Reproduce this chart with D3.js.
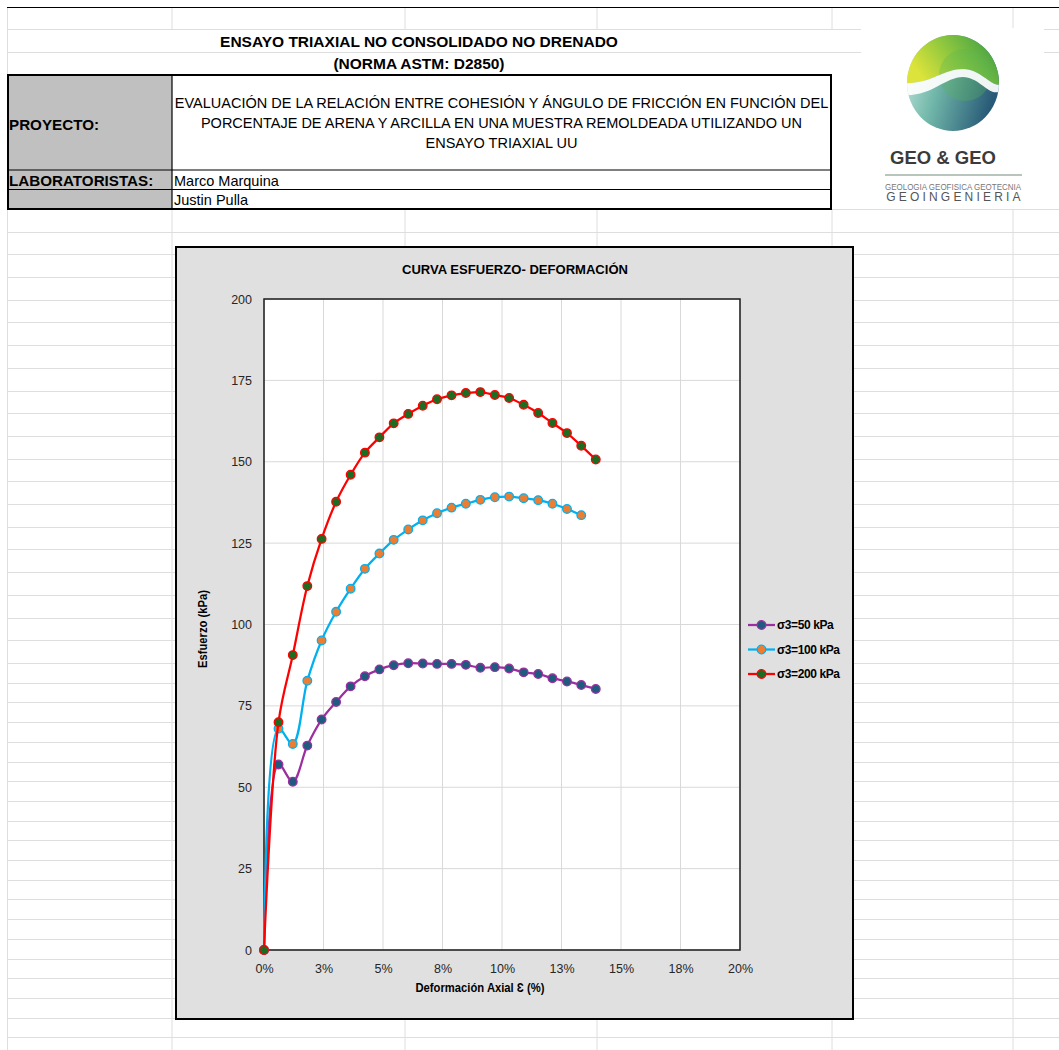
<!DOCTYPE html>
<html>
<head>
<meta charset="utf-8">
<script src="https://cdn.jsdelivr.net/npm/d3@7"></script>
<style>
  body { margin: 0; background: #fff; }
  svg { display: block; font-family: "Liberation Sans", Arial, sans-serif; }
</style>
</head>
<body>
<div id="sheet"></div>
<script>
// Data
var strain = [0, 0.61, 1.21, 1.82, 2.42, 3.03, 3.64, 4.24, 4.85, 5.45, 6.06, 6.67,
              7.27, 7.88, 8.48, 9.09, 9.70, 10.30, 10.91, 11.52, 12.12, 12.73, 13.33, 13.94];
var stress50  = [0, 57.0, 51.7, 62.8, 70.8, 76.2, 81.0, 84.1, 86.2, 87.5, 88.1, 88.0,
                 87.9, 87.9, 87.6, 86.7, 86.9, 86.5, 85.3, 84.8, 83.5, 82.5, 81.4, 80.2];
var stress100 = [0, 68.0, 63.3, 82.7, 95.1, 103.9, 111.0, 117.1, 121.8, 126.0, 129.2, 132.0,
                 134.2, 135.9, 137.1, 138.3, 139.1, 139.3, 138.8, 138.2, 137.1, 135.5, 133.6];
var stress200 = [0, 70.0, 90.6, 111.8, 126.3, 137.7, 146.0, 152.8, 157.5, 161.8, 164.7, 167.2,
                 169.2, 170.4, 171.1, 171.4, 170.5, 169.6, 167.5, 165.0, 161.9, 158.8, 154.9, 150.7];
var seriesNames = ["σ3=50 kPa", "σ3=100 kPa", "σ3=200 kPa"];
var xTickValues = [0, 2.5, 5, 7.5, 10, 12.5, 15, 17.5, 20];
var xTickLabels = ["0%", "3%", "5%", "8%", "10%", "13%", "15%", "18%", "20%"];
var yTickValues = [0, 25, 50, 75, 100, 125, 150, 175, 200];

var projectLines = [
  "EVALUACIÓN DE LA RELACIÓN ENTRE COHESIÓN Y ÁNGULO DE FRICCIÓN EN FUNCIÓN DEL",
  "PORCENTAJE DE ARENA Y ARCILLA EN UNA MUESTRA REMOLDEADA UTILIZANDO UN",
  "ENSAYO TRIAXIAL UU"
];
var labNames = ["Marco Marquina", "Justin Pulla"];

// Styles per series
var lineColors = ["#9c2f9f", "#00b0f0", "#ff0000"];
var markerFills = ["#1f5b7e", "#ed7d31", "#1e6b22"];

var W = 1059, H = 1050;
var svg = d3.select("#sheet").append("svg")
    .attr("width", W).attr("height", H);

var defs = svg.append("defs");

// ---------- spreadsheet grid ----------
var gridColor = "#dedede";
var cols = [7.5, 172, 405, 597, 832, 1013];
var rows = [209];
var yy = 209;
for (var i = 0; i < 20; i++) { yy += 22.7; rows.push(yy); }
while (yy < H) { yy += 19.7; rows.push(yy); }

var grid = svg.append("g").attr("stroke", gridColor).attr("stroke-width", 1);
rows.forEach(function(r) {
  grid.append("line").attr("x1", 7.5).attr("x2", W).attr("y1", Math.round(r) + 0.5).attr("y2", Math.round(r) + 0.5);
});
cols.forEach(function(c) {
  grid.append("line").attr("x1", c).attr("x2", c).attr("y1", 209).attr("y2", H);
});
// header rows
[29.5, 52.5].forEach(function(r) {
  grid.append("line").attr("x1", 7.5).attr("x2", W).attr("y1", r).attr("y2", r);
});
[172, 405, 597, 832, 1013].forEach(function(c) {
  grid.append("line").attr("x1", c).attr("x2", c).attr("y1", 7).attr("y2", 29);
});
grid.append("line").attr("x1", 7.5).attr("x2", 7.5).attr("y1", 7).attr("y2", 209);
svg.append("line").attr("x1", 7).attr("x2", W).attr("y1", 7.5).attr("y2", 7.5)
    .attr("stroke", "#000").attr("stroke-width", 1);

// ---------- header ----------
svg.append("text").attr("x", 419).attr("y", 46.5).attr("text-anchor", "middle")
    .attr("font-size", 15.5).attr("font-weight", "bold")
    .text("ENSAYO TRIAXIAL NO CONSOLIDADO NO DRENADO");
svg.append("text").attr("x", 419).attr("y", 68.5).attr("text-anchor", "middle")
    .attr("font-size", 15.5).attr("font-weight", "bold")
    .text("(NORMA ASTM: D2850)");

var table = svg.append("g");
table.append("rect").attr("x", 8).attr("y", 75).attr("width", 164).attr("height", 134).attr("fill", "#c0c0c0");
table.append("rect").attr("x", 8).attr("y", 75).attr("width", 823).attr("height", 134)
    .attr("fill", "none").attr("stroke", "#000").attr("stroke-width", 2);
table.append("line").attr("x1", 172).attr("x2", 172).attr("y1", 75).attr("y2", 209).attr("stroke", "#000").attr("stroke-width", 1.2);
[170, 189.5].forEach(function(r) {
  table.append("line").attr("x1", 8).attr("x2", 831).attr("y1", r).attr("y2", r).attr("stroke", "#000").attr("stroke-width", 1.2);
});
table.append("text").attr("x", 9).attr("y", 130).attr("font-size", 15.2).attr("font-weight", "bold").text("PROYECTO:");
table.append("text").attr("x", 9).attr("y", 185.5).attr("font-size", 15.2).attr("font-weight", "bold").text("LABORATORISTAS:");
projectLines.forEach(function(t, i) {
  table.append("text").attr("x", 501.5).attr("y", 108 + i * 20).attr("text-anchor", "middle")
      .attr("font-size", 14.5).text(t);
});
labNames.forEach(function(t, i) {
  table.append("text").attr("x", 174).attr("y", 185.5 + i * 19.5).attr("font-size", 14.5).text(t);
});

// ---------- logo ----------
var logo = svg.append("g");
logo.append("rect").attr("x", 861).attr("y", 28).attr("width", 183).attr("height", 181).attr("fill", "#fff");
var gTop = defs.append("linearGradient").attr("id", "lgTop").attr("x1", 0).attr("y1", 0.4).attr("x2", 1).attr("y2", 0);
gTop.append("stop").attr("offset", 0).attr("stop-color", "#dce33a");
gTop.append("stop").attr("offset", 0.4).attr("stop-color", "#8cc63f");
gTop.append("stop").attr("offset", 1).attr("stop-color", "#249148");
var gBot = defs.append("linearGradient").attr("id", "lgBot").attr("x1", 0).attr("y1", 0).attr("x2", 1).attr("y2", 0.3);
gBot.append("stop").attr("offset", 0).attr("stop-color", "#d3f0ea");
gBot.append("stop").attr("offset", 0.45).attr("stop-color", "#72b8aa");
gBot.append("stop").attr("offset", 1).attr("stop-color", "#285a77");
defs.append("clipPath").attr("id", "logoClip").append("ellipse")
    .attr("cx", 0).attr("cy", 0).attr("rx", 46).attr("ry", 48);
var lg = logo.append("g").attr("transform", "translate(953,83)").attr("clip-path", "url(#logoClip)");
lg.append("rect").attr("x", -50).attr("y", -55).attr("width", 100).attr("height", 110).attr("fill", "url(#lgBot)");
lg.append("path").attr("d", "M-50,-55 L50,-55 L50,0 C40,8 30,-14 10,-14 C-10,-14 -24,2 -50,0 Z").attr("fill", "url(#lgTop)");
lg.append("circle").attr("cx", 12).attr("cy", -8).attr("r", 26).attr("fill", "#5ab552").attr("opacity", 0.3);
lg.append("path").attr("d", "M-50,0 C-24,2 -10,-14 10,-14 C30,-14 40,8 50,0 L50,6 C38,18 28,-6 10,-6 C-8,-6 -22,14 -50,12 Z")
    .attr("fill", "#fff").attr("opacity", 0.92);
logo.append("text").attr("x", 943).attr("y", 163.5).attr("text-anchor", "middle")
    .attr("font-size", 18.5).attr("font-weight", "bold").attr("fill", "#3b3b3b").text("GEO & GEO");
logo.append("line").attr("x1", 885).attr("x2", 1022).attr("y1", 175).attr("y2", 175)
    .attr("stroke", "#9fb2a6").attr("stroke-width", 1.5);
logo.append("text").attr("x", 953).attr("y", 190).attr("text-anchor", "middle")
    .attr("font-size", 8.5).attr("fill", "#777").attr("textLength", 136).attr("lengthAdjust", "spacingAndGlyphs")
    .text("GEOLOGIA GEOFISICA GEOTECNIA");
logo.append("text").attr("x", 955).attr("y", 201).attr("text-anchor", "middle")
    .attr("font-size", 12).attr("fill", "#555").attr("letter-spacing", 3.2)
    .text("GEOINGENIERIA");

// ---------- chart ----------
var chart = svg.append("g");
chart.append("rect").attr("x", 176).attr("y", 247).attr("width", 677).attr("height", 772)
    .attr("fill", "#e0e0e0").attr("stroke", "#000").attr("stroke-width", 2);

var x = d3.scaleLinear().domain([0, 20]).range([264, 740]);
var y = d3.scaleLinear().domain([0, 200]).range([950, 299]);

chart.append("rect").attr("x", x(0)).attr("y", y(200)).attr("width", x(20) - x(0)).attr("height", y(0) - y(200))
    .attr("fill", "#fff");

// gridlines
chart.append("g").selectAll("line").data(xTickValues).enter().append("line")
    .attr("x1", function(d) { return x(d); }).attr("x2", function(d) { return x(d); })
    .attr("y1", y(0)).attr("y2", y(200)).attr("stroke", "#d9d9d9");
chart.append("g").selectAll("line").data(yTickValues).enter().append("line")
    .attr("x1", x(0)).attr("x2", x(20))
    .attr("y1", function(d) { return y(d); }).attr("y2", function(d) { return y(d); }).attr("stroke", "#d9d9d9");

chart.append("rect").attr("x", x(0)).attr("y", y(200)).attr("width", x(20) - x(0)).attr("height", y(0) - y(200))
    .attr("fill", "none").attr("stroke", "#1a1a1a").attr("stroke-width", 1.5);

// axes
var xAxis = chart.append("g").attr("transform", "translate(0," + y(0) + ")")
    .call(d3.axisBottom(x).tickValues(xTickValues)
      .tickFormat(function(d, i) { return xTickLabels[i]; }).tickSize(0).tickPadding(14));
var yAxis = chart.append("g").attr("transform", "translate(" + x(0) + ",0)")
    .call(d3.axisLeft(y).tickValues(yTickValues).tickSize(0).tickPadding(12));
[xAxis, yAxis].forEach(function(a) {
  a.select(".domain").remove();
  a.selectAll("text").attr("font-size", 12.5).attr("fill", "#262626")
      .attr("font-family", "'Liberation Sans', Arial, sans-serif");
});

chart.append("text").attr("x", 515).attr("y", 274).attr("text-anchor", "middle")
    .attr("font-size", 13.5).attr("font-weight", "bold")
    .attr("textLength", 226).attr("lengthAdjust", "spacingAndGlyphs")
    .text("CURVA ESFUERZO- DEFORMACIÓN");
chart.append("text").attr("x", 480).attr("y", 992).attr("text-anchor", "middle")
    .attr("font-size", 12.5).attr("font-weight", "bold")
    .attr("textLength", 129).attr("lengthAdjust", "spacingAndGlyphs")
    .text("Deformación Axial Ɛ (%)");
chart.append("text").attr("transform", "translate(207,629) rotate(-90)").attr("text-anchor", "middle")
    .attr("font-size", 12.5).attr("font-weight", "bold")
    .attr("textLength", 78).attr("lengthAdjust", "spacingAndGlyphs")
    .text("Esfuerzo (kPa)");

// series
var allStress = [stress50, stress100, stress200];
var line = d3.line()
    .x(function(d) { return x(d[0]); })
    .y(function(d) { return y(d[1]); })
    .curve(d3.curveCatmullRom.alpha(0.5));

allStress.forEach(function(vals, s) {
  var pts = vals.map(function(v, i) { return [strain[i], v]; });
  var g = chart.append("g");
  g.append("path").datum(pts).attr("d", line)
      .attr("fill", "none").attr("stroke", lineColors[s]).attr("stroke-width", 2.25);
  g.selectAll("circle").data(pts).enter().append("circle")
      .attr("cx", function(d) { return x(d[0]); })
      .attr("cy", function(d) { return y(d[1]); })
      .attr("r", 4.3)
      .attr("fill", markerFills[s]).attr("stroke", lineColors[s]).attr("stroke-width", 1.3);
});

// legend
var legend = chart.append("g");
seriesNames.forEach(function(name, s) {
  var ly = 625 + s * 24.5;
  legend.append("line").attr("x1", 748).attr("x2", 775).attr("y1", ly).attr("y2", ly)
      .attr("stroke", lineColors[s]).attr("stroke-width", 2.25);
  legend.append("circle").attr("cx", 761.5).attr("cy", ly).attr("r", 4.3)
      .attr("fill", markerFills[s]).attr("stroke", lineColors[s]).attr("stroke-width", 1.3);
  legend.append("text").attr("x", 777).attr("y", ly + 4.3)
      .attr("font-size", 12).attr("font-weight", "bold").attr("letter-spacing", -0.4)
      .text(name);
});
</script>
</body>
</html>
